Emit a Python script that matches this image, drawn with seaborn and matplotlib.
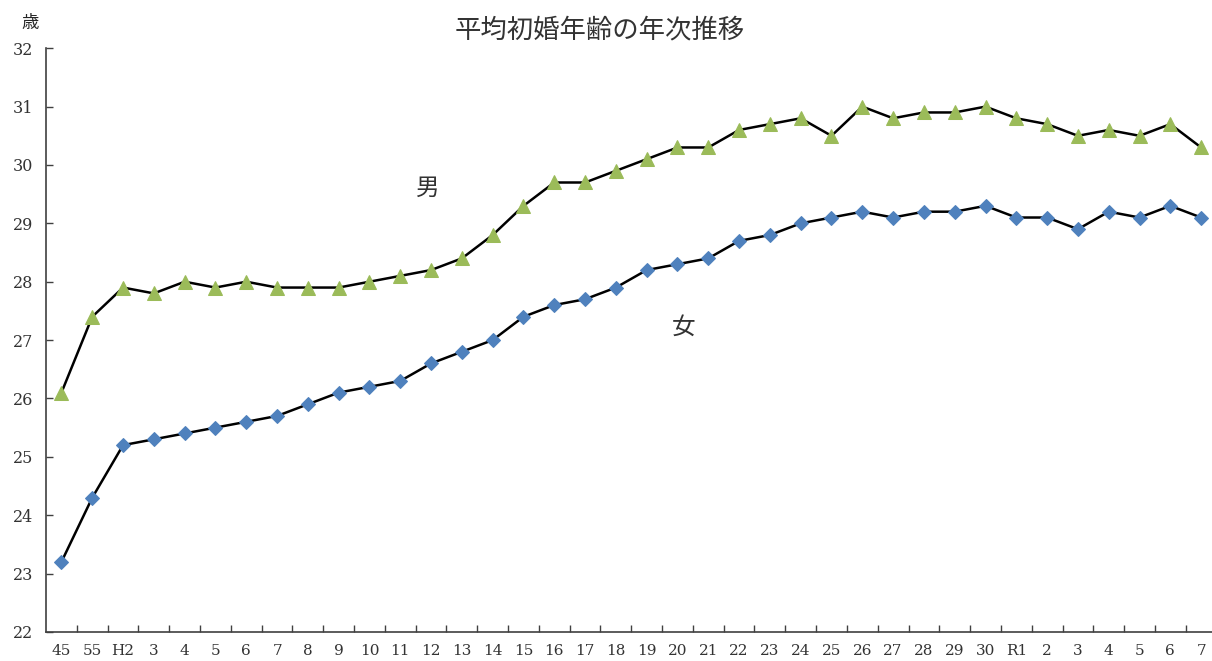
import matplotlib
matplotlib.use("Agg")
import matplotlib.pyplot as plt
import numpy as np
import pandas as pd
import seaborn as sns

# Data
years = ["45", "55", "H2", "3", "4", "5", "6", "7", "8", "9", "10", "11", "12",
         "13", "14", "15", "16", "17", "18", "19", "20", "21", "22", "23", "24",
         "25", "26", "27", "28", "29", "30", "R1", "2", "3", "4", "5", "6", "7"]
male = [26.1, 27.4, 27.9, 27.8, 28.0, 27.9, 28.0, 27.9, 27.9, 27.9, 28.0, 28.1,
        28.2, 28.4, 28.8, 29.3, 29.7, 29.7, 29.9, 30.1, 30.3, 30.3, 30.6, 30.7,
        30.8, 30.5, 31.0, 30.8, 30.9, 30.9, 31.0, 30.8, 30.7, 30.5, 30.6, 30.5,
        30.7, 30.3]
female = [23.2, 24.3, 25.2, 25.3, 25.4, 25.5, 25.6, 25.7, 25.9, 26.1, 26.2, 26.3,
          26.6, 26.8, 27.0, 27.4, 27.6, 27.7, 27.9, 28.2, 28.3, 28.4, 28.7, 28.8,
          29.0, 29.1, 29.2, 29.1, 29.2, 29.2, 29.3, 29.1, 29.1, 28.9, 29.2, 29.1,
          29.3, 29.1]

df = pd.DataFrame({"pos": np.arange(len(years)), "male": male, "female": female})

sns.set_style("white", {"xtick.direction": "in", "ytick.direction": "in",
                        "xtick.bottom": True, "ytick.left": True})
plt.rcParams["font.family"] = ["Noto Sans CJK JP", "DejaVu Sans"]
plt.rcParams["xtick.direction"] = "in"
plt.rcParams["ytick.direction"] = "in"

fig = plt.figure(figsize=(12.12, 6.61), dpi=100)
ax = fig.add_axes([0.038, 0.044, 0.967, 0.883])

sns.lineplot(data=df, x="pos", y="male", ax=ax, color="black", linewidth=1.8,
             marker="^", markersize=10.5, markerfacecolor="#9BBB59",
             markeredgecolor="#9BBB59", zorder=3)
sns.lineplot(data=df, x="pos", y="female", ax=ax, color="black", linewidth=1.8,
             marker="D", markersize=7.5, markerfacecolor="#4F81BD",
             markeredgecolor="#4F81BD", zorder=3)

ax.set_xlim(-0.5, len(years) - 0.45)
ax.set_ylim(22, 32)
ax.set_xlabel("")
ax.set_ylabel("")

serif = ["DejaVu Serif"]
ax.set_xticks(df["pos"])
ax.set_xticklabels(years, family=serif, fontsize=11, color="#333333")
ax.set_xticks(df["pos"][:-1] + 0.5, minor=True)
ax.tick_params(axis="x", which="major", bottom=True, length=0, pad=9)
ax.tick_params(axis="x", which="minor", bottom=True, length=5, width=1,
               direction="in", color="#404040")
ax.set_yticks(np.arange(22, 33, 1))
ax.set_yticklabels([str(v) for v in range(22, 33)], family=serif, fontsize=11.5,
                   color="#333333")
ax.tick_params(axis="y", which="major", left=True, length=5, width=1,
               direction="in", color="#404040", pad=9)

for side in ["top", "right"]:
    ax.spines[side].set_visible(False)
for side in ["left", "bottom"]:
    ax.spines[side].set_color("#404040")
    ax.spines[side].set_linewidth(1.2)

ax.text(11.9, 29.6, "男", fontsize=17, ha="center", va="center", color="#333333")
ax.text(20.2, 27.22, "女", fontsize=17, ha="center", va="center", color="#333333")

fig.text(0.495, 0.955, "平均初婚年齢の年次推移", fontsize=19, ha="center",
         va="center", color="#333333")
fig.text(0.025, 0.965, "歳", fontsize=12.5, ha="center", va="center")

fig.savefig("out.png", dpi=100)
